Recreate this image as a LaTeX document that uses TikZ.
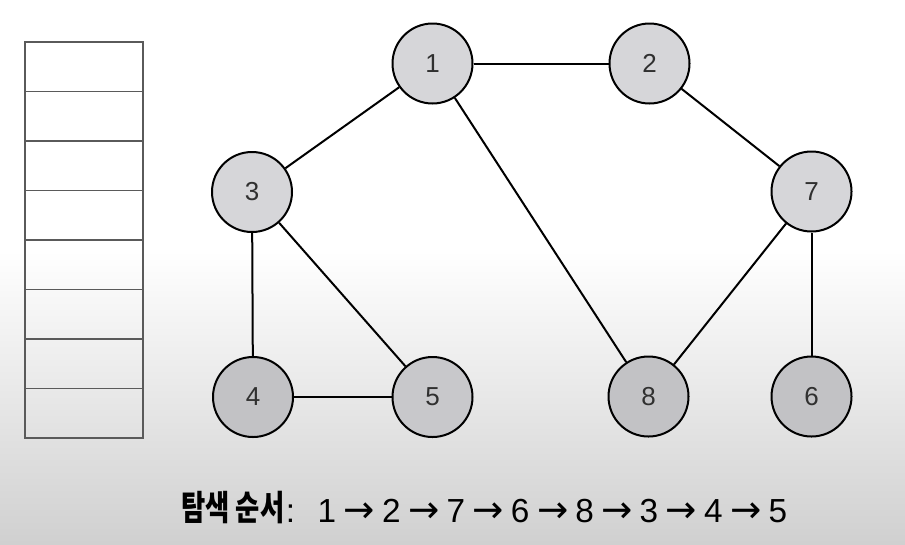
\documentclass[tikz,border=0pt]{standalone}
\usepackage{fontspec}
\setmainfont{Liberation Sans}
\newfontfamily\krfont{Noto Sans CJK KR}
\newfontfamily\symfont{DejaVu Sans}
\definecolor{bgbot}{HTML}{D0D0D0}
\definecolor{nodefill}{HTML}{D6D6D9}
\definecolor{nodedark}{HTML}{C2C2C5}
\definecolor{nodemid}{HTML}{C8C8CB}
\definecolor{cellline}{HTML}{5A5A5A}
\definecolor{numcol}{HTML}{303030}
\begin{document}
\begin{tikzpicture}[x=0.75pt,y=-0.75pt,
  vertex/.style={circle,draw=black,line width=1.5pt,fill=nodefill,minimum size=60pt,inner sep=0pt,
    font=\fontsize{19.5}{19.5}\selectfont,text=numcol},
  darkv/.style={vertex,fill=nodedark},
  midv/.style={vertex,fill=nodemid},
  edge/.style={line width=1.5pt,draw=black},
  cell/.style={draw=cellline,line width=0.9pt},
  captxt/.style={anchor=base,inner sep=0pt,text=black},
  digit/.style={captxt,font=\fontsize{25}{25}\selectfont},
  arr/.style={captxt,font=\symfont\fontsize{28}{28}\selectfont}]
\useasboundingbox (0,0) rectangle (905,544);
\fill[white] (0,0) rectangle (905,250);
\shade[top color=white,bottom color=bgbot] (0,250) rectangle (905,544);
% stack
\foreach \i in {0,...,7}{
  \draw[cell] (25,{42+\i*49.5}) rectangle (143,{42+(\i+1)*49.5});
}
% nodes
\node[vertex] (n1) at (432.5,63.5) {1};
\node[vertex] (n2) at (649.5,63.5) {2};
\node[vertex] (n3) at (252,192) {3};
\node[vertex] (n7) at (811.5,191.5) {7};
\node[darkv] (n4) at (253,397) {4};
\node[midv] (n5) at (432.5,397) {5};
\node[darkv] (n8) at (648.5,396.5) {8};
\node[darkv] (n6) at (811.5,396.5) {6};
% edges
\draw[edge] (n1) -- (n2);
\draw[edge] (n1) -- (n3);
\draw[edge] (n1) -- (n8);
\draw[edge] (n2) -- (n7);
\draw[edge] (n3) -- (n4);
\draw[edge] (n3) -- (n5);
\draw[edge] (n4) -- (n5);
\draw[edge] (n7) -- (n8);
\draw[edge] (n7) -- (n6);
% caption
\node[captxt] (kr) at (233,520) {\scalebox{0.76}[1]{\krfont\bfseries\fontsize{26}{26}\selectfont 탐색 순서}};
\node[digit] (colon) at (290.5,522) {:};
\foreach \d [count=\k from 0] in {1,2,7,6,8,3,4,5}{
  \node[digit] (d\k) at ({327+64.4*\k},522) {\d};
}
\foreach \k in {0,...,6}{
  \node[arr] (a\k) at ({359.5+64.4*\k},522) {→};
}
\end{tikzpicture}
\end{document}
